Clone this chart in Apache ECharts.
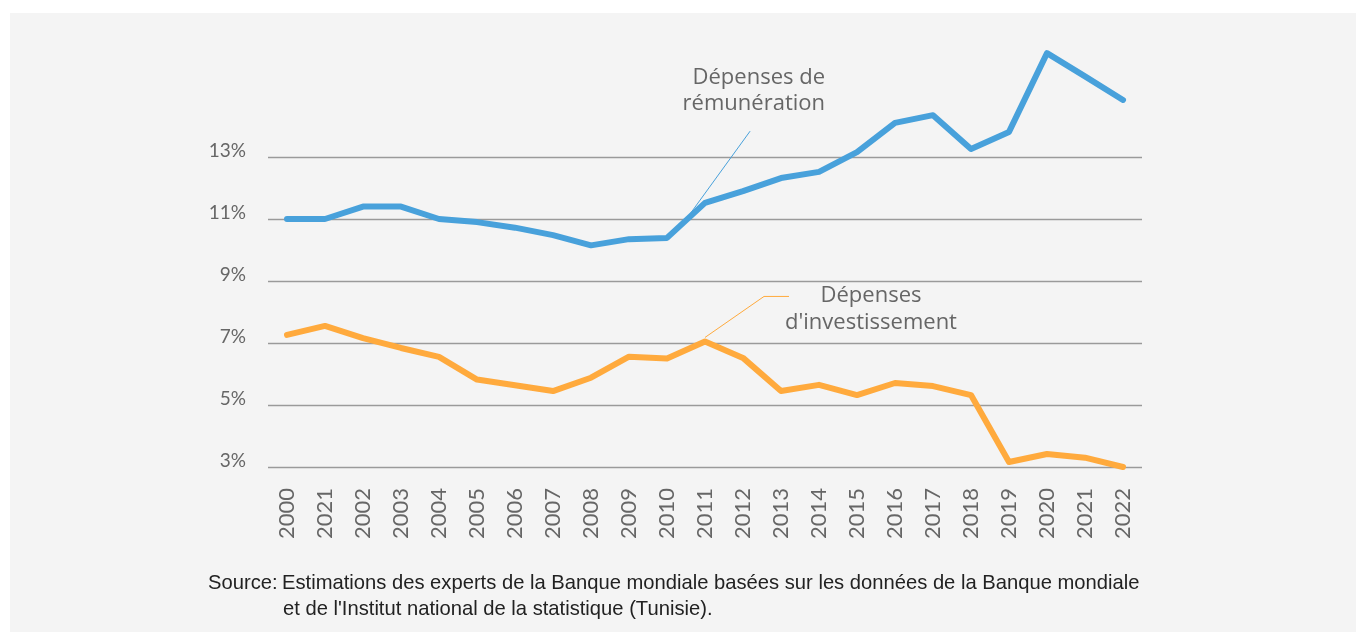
<!DOCTYPE html>
<html>
<head>
<meta charset="utf-8">
<script src="https://cdn.jsdelivr.net/npm/echarts@6/dist/echarts.min.js"></script>
<style>
html,body{margin:0;padding:0;background:#ffffff;}
#chart{width:1356px;height:632px;}
</style>
</head>
<body>
<div id="chart"></div>
<script>
// Category labels as printed in the source (note "2021" in second slot)
const years = ["2000","2021","2002","2003","2004","2005","2006","2007","2008","2009","2010","2011","2012","2013","2014","2015","2016","2017","2018","2019","2020","2021","2022"];
const remuneration = [11.0,11.0,11.4,11.4,11.0,10.9,10.72,10.48,10.15,10.35,10.39,11.52,11.9,12.32,12.52,13.16,14.1,14.35,13.26,13.81,16.35,15.6,14.84];
const investissement = [7.26,7.55,7.16,6.84,6.55,5.82,5.64,5.45,5.88,6.56,6.5,7.05,6.52,5.45,5.65,5.32,5.71,5.61,5.32,3.16,3.42,3.3,3.0];
const yTicks = [3,5,7,9,11,13];
const labelRem = ["Dépenses de","rémunération"];
const labelInv = ["Dépenses","d'investissement"];
const sourceLines = ["Estimations des experts de la Banque mondiale basées sur les données de la Banque mondiale","et de l'Institut national de la statistique (Tunisie)."];

const BLUE = '#48a1db';
const ORANGE = '#ffaa3d';
const chart = echarts.init(document.getElementById('chart'));
const FONT = 'Lato';
const ANNOT_FONT = 'Open Sans';

chart.setOption({
  backgroundColor: '#ffffff',
  animation: false,
  grid: {left: 268, right: 214, top: 157, bottom: 165, containLabel: false},
  xAxis: {
    type: 'category',
    data: years,
    boundaryGap: true,
    axisLine: {show: false},
    axisTick: {show: false},
    axisLabel: {rotate: 90, margin: 21, color: '#666666', fontSize: 22, fontFamily: FONT}
  },
  yAxis: {
    type: 'value',
    min: yTicks[0],
    max: yTicks[yTicks.length - 1],
    interval: 2,
    axisLine: {show: false},
    axisTick: {show: false},
    splitLine: {lineStyle: {color: '#9a9a9a', width: 1.3}},
    axisLabel: {
      margin: 22, color: '#666666', fontSize: 19, fontFamily: FONT,
      verticalAlign: 'bottom', lineHeight: 12,
      formatter: v => v + '%'
    }
  },
  series: [
    {type: 'line', data: remuneration, symbol: 'none', clip: false, z: 3,
     lineStyle: {color: BLUE, width: 6, cap: 'round', join: 'round'}},
    {type: 'line', data: investissement, symbol: 'none', clip: false, z: 3,
     lineStyle: {color: ORANGE, width: 6, cap: 'round', join: 'round'}}
  ]
});

const b10 = chart.convertToPixel({gridIndex: 0}, [10, remuneration[10]]);
const b11 = chart.convertToPixel({gridIndex: 0}, [11, remuneration[11]]);
const o11 = chart.convertToPixel({gridIndex: 0}, [11, investissement[11]]);
const bs = [b10[0] + (b11[0] - b10[0]) * 0.45, b10[1] + (b11[1] - b10[1]) * 0.45];
const os = [o11[0], o11[1] - 4];

const annot = (x, y, text, align) => ({type: 'text', z: 5, style: {x: x, y: y, text: text, textAlign: align, textVerticalAlign: 'middle', fill: '#666666', fontSize: 22, fontFamily: ANNOT_FONT}});
const src = (x, y, text) => ({type: 'text', z: 5, style: {x: x, y: y, text: text, textAlign: 'left', textVerticalAlign: 'middle', fill: '#222222', fontSize: 20.2, fontFamily: 'Liberation Sans'}});

chart.setOption({
  graphic: [
    {type: 'rect', z: -10, silent: true, shape: {x: 10, y: 13, width: 1346, height: 619}, style: {fill: '#f4f4f4'}},
    {type: 'line', z: 1, shape: {x1: bs[0], y1: bs[1], x2: bs[0] + 66, y2: bs[1] - 91}, style: {stroke: BLUE, lineWidth: 1}},
    {type: 'polyline', z: 1, shape: {points: [os, [os[0] + 59, os[1] - 41], [os[0] + 84, os[1] - 41]]}, style: {stroke: ORANGE, lineWidth: 1, fill: null}},
    annot(825, 78, labelRem[0], 'right'),
    annot(825, 104, labelRem[1], 'right'),
    annot(871, 296, labelInv[0], 'center'),
    annot(871, 323, labelInv[1], 'center'),
    src(208, 583, 'Source:'),
    src(282, 583, sourceLines[0]),
    src(283, 609, sourceLines[1])
  ]
});
</script>
</body>
</html>
